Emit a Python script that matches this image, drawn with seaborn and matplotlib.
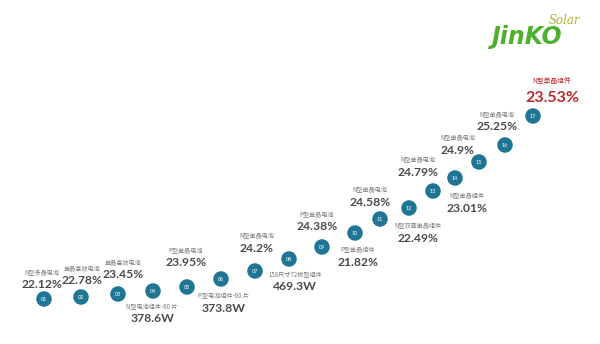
import matplotlib
matplotlib.use("Agg")
import matplotlib.pyplot as plt
import seaborn as sns
import pandas as pd

# ---- data ----
steps = ["01", "02", "03", "04", "05", "06", "07", "08", "09",
         "10", "11", "12", "13", "14", "15", "16", "17"]
categories = ["N型多晶电池", "单晶高效电池", "单晶高效电池", "N型电池组件-60 片",
              "P型单晶电池", "P型电池组件-60 片", "N型单晶电池", "158尺寸72板型组件",
              "P型单晶电池", "P型单晶组件", "N型单晶电池", "N型双面单晶组件",
              "N型单晶电池", "N型单晶组件", "N型单晶电池", "N型单晶电池", "N型单晶组件"]
records = ["22.12%", "22.78%", "23.45%", "378.6W", "23.95%", "373.8W", "24.2%",
           "469.3W", "24.38%", "21.82%", "24.58%", "22.49%", "24.79%", "23.01%",
           "24.9%", "25.25%", "23.53%"]
# position of each milestone along the rising track
track_x = [44, 81, 118, 153, 187, 221, 255, 289, 322, 355, 380, 409, 433, 455, 479, 505, 533]
track_y = [299, 297, 294, 291, 287, 279, 271, 259, 247, 233, 219, 208, 191, 178, 162, 145, 116]

# ---- layout (label offsets relative to each marker) ----
label_dx = [-2, 1, 5, -1, -1, 3, 2, 6, -5, 3, -10, 9, -15, 12, -21, -8, 19]
label_dy = [-14, -16, -19, 28, -24, 29, -23, 28, -20, 29, -17, 30, -19, 30, -12, -18, -18]

df = pd.DataFrame({"step": steps, "x": track_x, "y": track_y})

sns.set_theme(style="white")
plt.rcParams["font.family"] = ["Noto Sans CJK SC", "DejaVu Sans"]

fig = plt.figure(figsize=(6.0, 3.44), dpi=100)
ax = fig.add_axes([0, 0, 1, 1])
ax.set_xlim(0, 600)
ax.set_ylim(344, 0)
ax.axis("off")

teal = "#1f7594"
sns.scatterplot(data=df, x="x", y="y", s=125, color=teal, edgecolor="none",
                ax=ax, legend=False, zorder=3)

for i, s in enumerate(steps):
    ax.text(track_x[i], track_y[i] + 0.3, s, ha="center", va="center",
            color="white", fontsize=4.0, family=["Lato", "DejaVu Sans"],
            zorder=4)
    lx = track_x[i] + label_dx[i]
    ly = track_y[i] + label_dy[i]
    last = (i == len(steps) - 1)
    vcol = "#c0272d" if last else "#4a4a4a"
    ccol = "#c0272d" if last else "#7a7a7a"
    vsize = 11.5 if last else 8.7
    csize = 4.9 if last else 4.4
    cgap = 17 if last else 11.5
    ax.text(lx, ly, records[i], ha="center", va="center", color=vcol,
            fontsize=vsize, fontweight="bold", family=["Lato", "DejaVu Sans"])
    ax.text(lx, ly - cgap, categories[i], ha="center", va="center", color=ccol,
            fontsize=csize, family=["Noto Sans CJK SC", "DejaVu Sans"])

# logo
ax.text(527, 37, "JinKO", ha="center", va="center", color="#4fb02b",
        fontsize=17, fontweight="heavy", fontstyle="italic",
        family=["DejaVu Sans"])
ax.text(564, 20, "Solar", ha="center", va="center", color="#a9b62c",
        fontsize=8.5, fontstyle="italic", family=["DejaVu Serif"])

fig.savefig("out.png", dpi=100, facecolor="white")
